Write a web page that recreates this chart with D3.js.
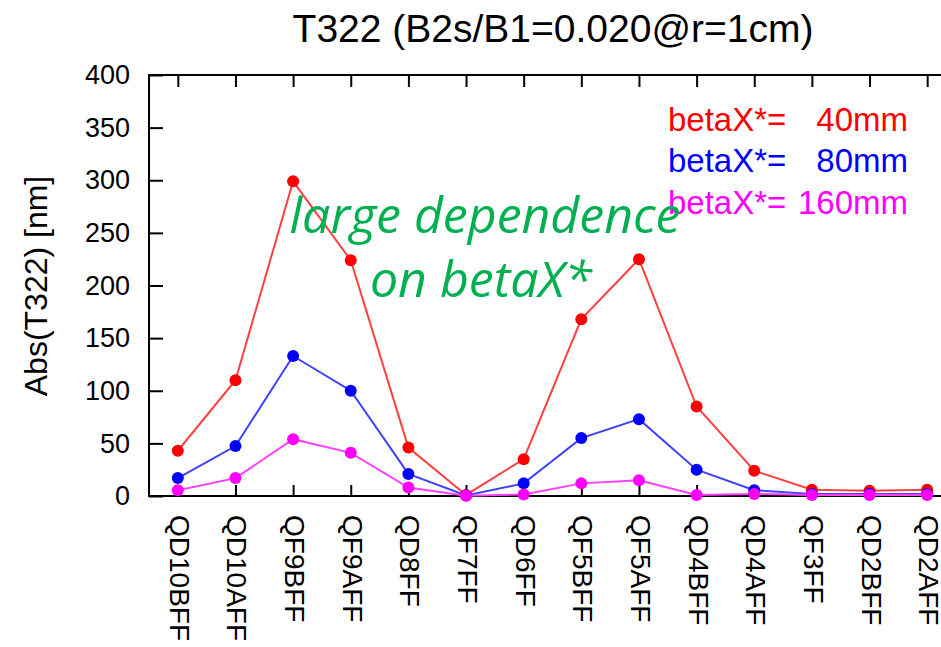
<!DOCTYPE html>
<html>
<head>
<meta charset="utf-8">
<script src="https://cdn.jsdelivr.net/npm/d3@7"></script>
<style>
  html, body { margin: 0; padding: 0; background: #fff; }
  svg { display: block; }
</style>
</head>
<body>
<svg id="chart" width="941" height="647"></svg>
<script>
// Magnet names along the beamline
const magnets = ["QD10BFF", "QD10AFF", "QF9BFF", "QF9AFF", "QD8FF", "QF7FF", "QD6FF",
                 "QF5BFF", "QF5AFF", "QD4BFF", "QD4AFF", "QF3FF", "QD2BFF", "QD2AFF"];

// Abs(T322) in nm for each betaX* setting
const beta40  = [43, 110, 299, 224, 46, 1, 35, 168, 225, 85, 24, 6, 5, 6];
const beta80  = [17, 47.5, 133, 100, 21, 0.5, 12, 55, 73, 25, 5.5, 2, 2, 2];
const beta160 = [5.5, 17, 54, 41, 8, 0.3, 1.5, 12, 15, 1, 2, 1, 1, 1];

const yTicks = [0, 50, 100, 150, 200, 250, 300, 350, 400];

const series = [
  { label: "betaX*=", value: "40mm",  color: "#ff0000", line: "#ff4040", data: beta40 },
  { label: "betaX*=", value: "80mm",  color: "#0000ff", line: "#4040ff", data: beta80 },
  { label: "betaX*=", value: "160mm", color: "#ff00ff", line: "#ff40ff", data: beta160 }
];

const svg = d3.select("#chart");
const font = "'Liberation Sans', Arial, Helvetica, sans-serif";

const plotLeft = 149, plotTop = 75, plotBottom = 496, plotRight = 956;

const x = d3.scalePoint().domain(magnets).range([plotLeft, plotRight]).padding(0.5);
const y = d3.scaleLinear().domain([0, 400]).range([plotBottom, plotTop]);

// Title
svg.append("text")
  .attr("x", 553).attr("y", 42)
  .attr("text-anchor", "middle")
  .attr("font-family", font).attr("font-size", 39)
  .attr("fill", "#000")
  .text("T322 (B2s/B1=0.020@r=1cm)");

// Frame (left, top, bottom edges; right edge lies beyond the page)
const frame = svg.append("g").attr("stroke", "#000").attr("stroke-width", 2).attr("fill", "none");
frame.append("path").attr("d", `M${plotRight},${plotTop}H${plotLeft}V${plotBottom}H${plotRight}`);

// Left axis: inward ticks with labels
const yAxis = d3.axisLeft(y).tickValues(yTicks).tickSize(-14).tickPadding(19);
const gy = svg.append("g").attr("transform", `translate(${plotLeft},0)`).call(yAxis);
gy.select(".domain").remove();
gy.selectAll(".tick line").attr("stroke", "#000").attr("stroke-width", 2);
gy.selectAll(".tick text")
  .attr("font-family", font).attr("font-size", 27).attr("fill", "#000");

// Bottom axis: inward ticks, labels rotated to read downward
const xAxis = d3.axisBottom(x).tickSize(-11).tickPadding(0);
const gx = svg.append("g").attr("transform", `translate(0,${plotBottom})`).call(xAxis);
gx.select(".domain").remove();
gx.selectAll(".tick line").attr("stroke", "#000").attr("stroke-width", 2);
gx.selectAll(".tick text")
  .attr("font-family", font).attr("font-size", 28).attr("fill", "#000")
  .attr("text-anchor", "start")
  .attr("dy", null)
  .attr("transform", "translate(1,19) rotate(90)")
  .attr("x", 0).attr("y", 0)
  .attr("dominant-baseline", "central");

// Top axis: inward ticks only
const xTop = d3.axisTop(x).tickSize(-12).tickFormat("");
const gt = svg.append("g").attr("transform", `translate(0,${plotTop})`).call(xTop);
gt.select(".domain").remove();
gt.selectAll(".tick line").attr("stroke", "#000").attr("stroke-width", 2);

// Y axis title
svg.append("text")
  .attr("transform", "translate(47,286) rotate(-90)")
  .attr("text-anchor", "middle")
  .attr("font-family", font).attr("font-size", 32)
  .attr("fill", "#000")
  .text("Abs(T322) [nm]");

// Series lines and markers
const line = d3.line().x((d, i) => x(magnets[i])).y(d => y(d));
series.forEach(s => {
  svg.append("path")
    .datum(s.data)
    .attr("fill", "none")
    .attr("stroke", s.line)
    .attr("stroke-width", 2)
    .attr("d", line);
  svg.append("g").selectAll("circle")
    .data(s.data)
    .join("circle")
    .attr("cx", (d, i) => x(magnets[i]))
    .attr("cy", d => y(d))
    .attr("r", 6)
    .attr("fill", s.color);
});

// Legend
const legend = svg.append("g").attr("font-family", font).attr("font-size", 33);
const legendRows = [131, 172, 214];
series.forEach((s, i) => {
  legend.append("text").attr("x", 668).attr("y", legendRows[i]).attr("fill", s.color).text(s.label);
  legend.append("text").attr("x", 908).attr("y", legendRows[i]).attr("text-anchor", "end")
    .attr("fill", s.color).text(s.value);
});

// Annotation
const note = svg.append("g")
  .attr("font-family", "'Open Sans', 'Noto Sans', sans-serif")
  .attr("font-style", "italic")
  .attr("font-size", 50)
  .attr("fill", "#00b050")
  .attr("text-anchor", "middle");
note.append("text").attr("x", 485).attr("y", 233).text("large dependence");
note.append("text").attr("x", 481).attr("y", 297).text("on betaX*");
</script>
</body>
</html>
